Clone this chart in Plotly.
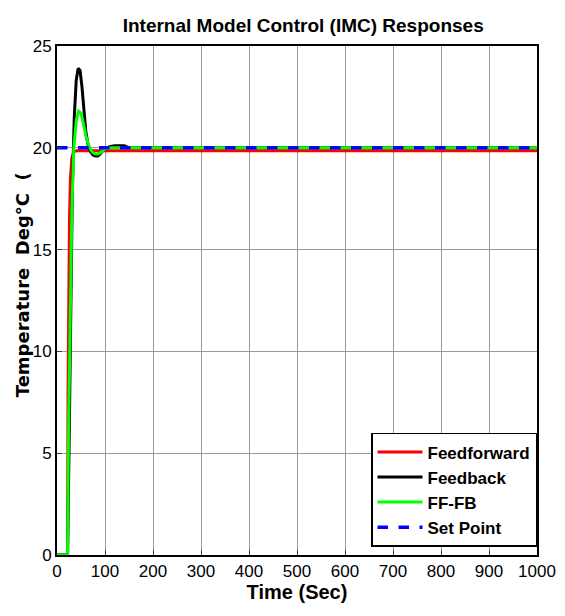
import plotly.graph_objects as go

# Data
t_fb = [0, 22, 25, 28, 32, 36, 40, 44, 48, 52, 56, 60, 65, 70, 75, 80, 85, 90, 95, 100, 110, 120, 130, 140, 150, 160, 1000]
y_fb = [0, 0, 5, 12, 18, 21.5, 23.3, 23.9, 23.8, 23.0, 21.8, 20.8, 20.1, 19.8, 19.65, 19.6, 19.6, 19.7, 19.85, 19.95, 20.05, 20.1, 20.1, 20.1, 20.0, 20.0, 20.0]

t_ffb = [0, 22, 24, 27, 31, 35, 40, 45, 50, 55, 60, 65, 70, 75, 80, 85, 90, 95, 100, 110, 1000]
y_ffb = [0, 0, 6, 12, 17, 20, 21.3, 21.8, 21.7, 21.2, 20.6, 20.2, 19.9, 19.75, 19.7, 19.7, 19.75, 19.85, 19.95, 20.0, 20.0]

t_ff = [0, 22, 23, 24, 26, 28, 31, 35, 40, 1000]
y_ff = [0, 0, 8, 13, 16.5, 18.5, 19.5, 19.8, 19.85, 19.85]

t_sp = [0, 1000]
y_sp = [20, 20]

x_ticks = list(range(0, 1001, 100))
y_ticks = [0, 5, 10, 15, 20, 25]

font_main = "Liberation Sans Narrow, Arial Narrow, Liberation Sans, Arial, sans-serif"

fig = go.Figure()
fig.add_trace(go.Scatter(x=t_ff, y=y_ff, mode="lines", name="<b>Feedforward</b>",
                         line=dict(color="#ff0000", width=3)))
fig.add_trace(go.Scatter(x=t_fb, y=y_fb, mode="lines", name="<b>Feedback</b>",
                         line=dict(color="#000000", width=3)))
fig.add_trace(go.Scatter(x=t_ffb, y=y_ffb, mode="lines", name="<b>FF-FB</b>",
                         line=dict(color="#00ff00", width=3)))
fig.add_trace(go.Scatter(x=t_sp, y=y_sp, mode="lines", name="<b>Set Point</b>",
                         line=dict(color="#0000ff", width=3.5, dash="dash")))

fig.update_layout(
    width=557, height=608,
    margin=dict(l=49, r=28, t=38, b=61),
    paper_bgcolor="white", plot_bgcolor="white",
    title=dict(text="<b>Internal Model Control (IMC) Responses</b>",
               x=0.53, xanchor="center", y=0.982, yanchor="top",
               font=dict(family=font_main, size=19, color="black")),
    xaxis=dict(range=[0, 1000], tickvals=x_ticks, showgrid=True, automargin=False,
               gridcolor="#999999", gridwidth=1, showline=True, linecolor="black",
               linewidth=2, mirror=True, ticks="inside", ticklen=5,
               tickfont=dict(family=font_main, size=17, color="black"),
               title=dict(text="<b>Time (Sec)</b>", standoff=2,
                          font=dict(family=font_main, size=20, color="black")),
               zeroline=False),
    yaxis=dict(range=[0, 25], tickvals=y_ticks, showgrid=True, automargin=False,
               gridcolor="#999999", gridwidth=1, showline=True, linecolor="black",
               linewidth=2, mirror=True, ticks="inside", ticklen=5,
               tickfont=dict(family=font_main, size=17, color="black"),
               zeroline=False),
    legend=dict(x=1.0, y=0.016, xanchor="right", yanchor="bottom",
                bgcolor="white", bordercolor="black", borderwidth=1.5,
                font=dict(family=font_main, size=17, color="black"),
                itemwidth=45, tracegroupgap=0),
    showlegend=True,
)

fig.add_annotation(text="<b>Temperature  Deg°C  (</b>", x=0, xref="paper",
                   xshift=-35, y=0.53, yref="paper", textangle=-90,
                   showarrow=False, xanchor="center", yanchor="middle",
                   font=dict(family="DejaVu Sans, Verdana, sans-serif", size=18, color="black"))

fig.write_html("out.html")
